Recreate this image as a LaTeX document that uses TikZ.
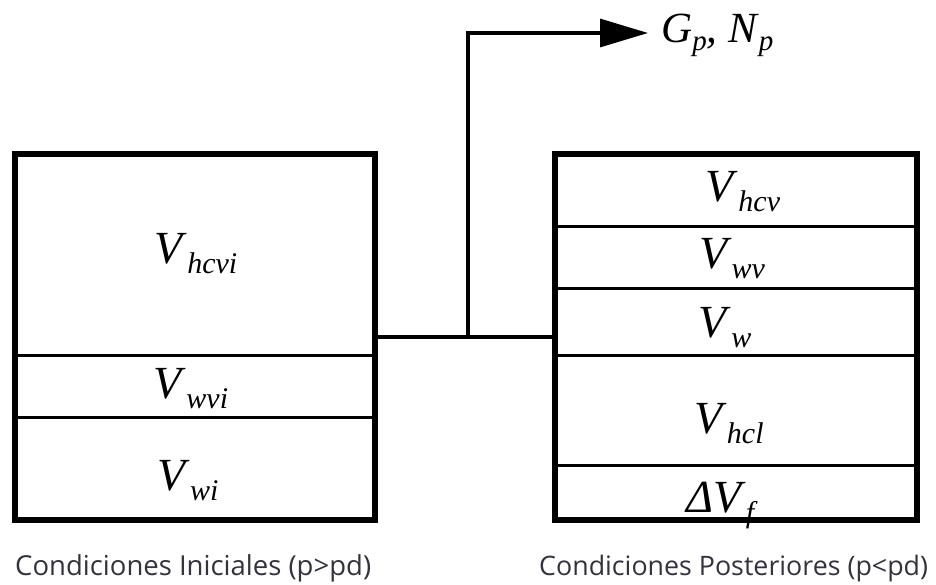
\documentclass[tikz,border=0pt]{standalone}
\usepackage{fontspec}
\setmainfont{Liberation Serif}
\newfontfamily\capfont{Open Sans}
\usetikzlibrary{arrows.meta}
\definecolor{captxt}{rgb}{0.2,0.2,0.24}
\newcommand{\VS}[2]{\textit{#1}\raisebox{-10pt}{\fontsize{30}{30}\selectfont\textit{#2}}}
\begin{document}
\begin{tikzpicture}[x=1pt,y=-1pt,
  tank/.style={draw, line width=5.5pt, rectangle, inner sep=0pt},
  divider/.style={line width=3pt},
  pipe/.style={line width=3.2pt},
  vlabel/.style={anchor=base, inner sep=0pt, font=\fontsize{46}{46}\selectfont},
  caption/.style={anchor=base west, inner sep=0pt, text=captxt, font=\capfont\fontsize{27.5}{28}\selectfont}]
\useasboundingbox (0,0) rectangle (936,585);
% tanks
\node[tank, minimum width=360pt, minimum height=366pt] (L) at (195,337) {};
\node[tank, minimum width=362pt, minimum height=366pt] (R) at (736,337) {};
% dividers left
\draw[divider] (L.west |- 0,355) -- (L.east |- 0,355);
\draw[divider] (L.west |- 0,417) -- (L.east |- 0,417);
% dividers right
\draw[divider] (R.west |- 0,227) -- (R.east |- 0,227);
\draw[divider] (R.west |- 0,288) -- (R.east |- 0,288);
\draw[divider] (R.west |- 0,355) -- (R.east |- 0,355);
\draw[divider] (R.west |- 0,465) -- (R.east |- 0,465);
% labels left
\node[vlabel] (hcvi) at (196,263) {\VS{V}{hcvi}};
\node[vlabel] (wvi) at (191,398) {\VS{V}{wvi}};
\node[vlabel] (wi) at (188,490) {\VS{V}{wi}};
% labels right
\node[vlabel] (hcv) at (743,202) {\VS{V}{hcv}};
\node[vlabel] (wv) at (732,268) {\VS{V}{wv}};
\node[vlabel] (w) at (725,337) {\VS{V}{w}};
\node[vlabel] (hcl) at (729,433) {\VS{V}{hcl}};
\node[vlabel] (df) at (722,512) {\textit{Δ}\VS{V}{f}};
% connectors
\draw[pipe] (L.east) -- (R.west);
\coordinate (J) at (468,337);
\coordinate (T) at (468,33);
\coordinate (E) at (648,33);
\draw[pipe, line cap=rect] (J) -- (T);
\draw[pipe, -{Triangle[length=48pt,width=28pt]}] (T) -- (E);
\node[anchor=base west, inner sep=0pt, font=\fontsize{43}{43}\selectfont] (gn) at (661,43)
  {\textit{G}\raisebox{-8pt}{\fontsize{29}{29}\selectfont\textit{p}}\textit{, N}\raisebox{-8pt}{\fontsize{29}{29}\selectfont\textit{p}}};
% captions
\node[caption] (c1) at (15,575) {Condiciones Iniciales (p>pd)};
\node[caption, font=\capfont\fontsize{26.8}{28}\selectfont] (c2) at (539,575) {Condiciones Posteriores (p<pd)};
\end{tikzpicture}
\end{document}
